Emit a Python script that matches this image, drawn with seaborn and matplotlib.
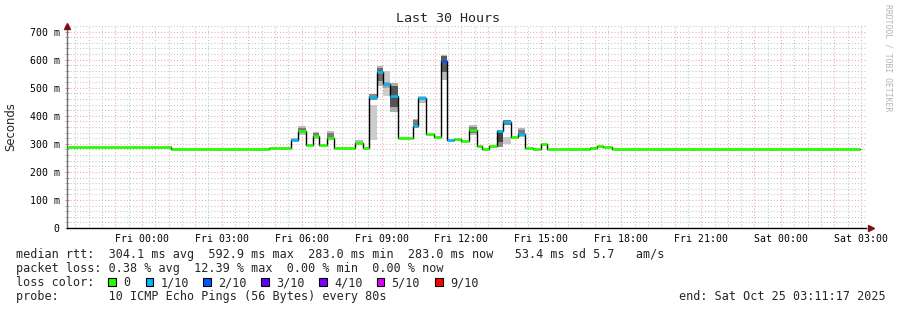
import numpy as np
import pandas as pd
import matplotlib
matplotlib.use("Agg")
import matplotlib.pyplot as plt
import matplotlib.dates as mdates
from matplotlib.ticker import MultipleLocator, FuncFormatter
from matplotlib.patches import Rectangle
import seaborn as sns

# ---------------- data ----------------
seg_start = [
    "2025-10-23 21:11:17", "2025-10-24 01:05", "2025-10-24 04:46", "2025-10-24 05:35",
    "2025-10-24 05:51", "2025-10-24 06:09", "2025-10-24 06:25", "2025-10-24 06:40",
    "2025-10-24 06:56", "2025-10-24 07:12", "2025-10-24 08:01", "2025-10-24 08:17",
    "2025-10-24 08:31", "2025-10-24 08:49", "2025-10-24 09:04", "2025-10-24 09:20",
    "2025-10-24 09:36", "2025-10-24 10:10", "2025-10-24 10:23", "2025-10-24 10:41",
    "2025-10-24 10:57", "2025-10-24 11:13", "2025-10-24 11:28", "2025-10-24 11:44",
    "2025-10-24 12:00", "2025-10-24 12:16", "2025-10-24 12:34", "2025-10-24 12:47",
    "2025-10-24 13:03", "2025-10-24 13:19", "2025-10-24 13:34", "2025-10-24 13:52",
    "2025-10-24 14:08", "2025-10-24 14:24", "2025-10-24 14:42", "2025-10-24 14:58",
    "2025-10-24 15:13", "2025-10-24 16:50", "2025-10-24 17:06", "2025-10-24 17:19",
    "2025-10-24 17:40",
]
data_end = "2025-10-25 02:58"
median_ms = [
    287, 283, 285, 314, 344, 296, 327, 296, 321, 285, 303, 284,
    466, 555, 513, 469, 322, 364, 462, 335, 326, 594, 314, 319,
    311, 350, 293, 283, 293, 344, 378, 326, 336, 285, 282, 300,
    282, 285, 294, 289, 283,
]
loss_idx = [
    0, 0, 0, 1, 0, 0, 0, 0, 0, 0, 0, 0,
    1, 1, 1, 1, 0, 1, 1, 0, 0, 2, 1, 0,
    0, 0, 0, 0, 0, 1, 1, 0, 1, 0, 0, 0,
    0, 0, 0, 0, 0,
]
# smoke bands (spread of the individual pings)
band_seg = [3, 4, 4, 5, 6, 6, 8, 8, 10, 12, 12, 13, 13, 14, 14, 15, 15,
            17, 17, 18, 21, 21, 25, 25, 29, 29, 30, 30, 32, 32, 37]
band_lo = [310, 332, 338, 293, 318, 323, 314, 320, 298, 312, 458, 505, 525, 469, 500, 415, 430,
           358, 366, 445, 526, 555, 330, 340, 290, 305, 300, 368, 324, 330, 283]
band_hi = [322, 364, 358, 300, 343, 338, 346, 340, 312, 439, 478, 578, 570, 558, 520, 518, 505,
           390, 385, 470, 618, 612, 368, 360, 350, 345, 325, 385, 357, 350, 289]
band_gray = ["#b4b4b4", "#bcbcbc", "#7a7a7a", "#d4d4d4", "#bcbcbc", "#7a7a7a", "#bcbcbc", "#7a7a7a",
             "#b4b4b4", "#cccccc", "#8a8a8a", "#b4b4b4", "#6a6a6a", "#cccccc", "#a4a4a4", "#acacac",
             "#545454", "#b4b4b4", "#7a7a7a", "#bcbcbc", "#bcbcbc", "#5a5a5a", "#bcbcbc", "#7a7a7a",
             "#8c8c8c", "#444444", "#c8c8c8", "#7a7a7a", "#b4b4b4", "#7a7a7a", "#d4d4d4"]

loss_labels = ["0", "1/10", "2/10", "3/10", "4/10", "5/10", "9/10"]
loss_colors = ["#26ff00", "#00b8ff", "#0059ff", "#5e00ff", "#7e00ff", "#dd00ff", "#ff0000"]

title = "Last 30 Hours"
y_label = "Seconds"
x_start = "2025-10-23 21:11:17"
x_end = "2025-10-25 03:11:17"
legend_lines = [
    "median rtt:  304.1 ms avg  592.9 ms max  283.0 ms min  283.0 ms now   53.4 ms sd 5.7   am/s",
    "packet loss: 0.38 % avg  12.39 % max  0.00 % min  0.00 % now",
    "loss color:",
    "probe:       10 ICMP Echo Pings (56 Bytes) every 80s",
]
end_text = "end: Sat Oct 25 03:11:17 2025"
credit = "RRDTOOL / TOBI OETIKER"

# ---------------- figure ----------------
sns.set_theme(style="white")
plt.rcParams["font.family"] = ["DejaVu Sans Mono", "DejaVu Sans"]

W, H = 897, 310
fig = plt.figure(figsize=(W / 100, H / 100), dpi=100, facecolor="white")
def fx(x): return x / W
def fy(y): return 1 - y / H

ax = fig.add_axes([fx(67), fy(228), fx(866) - fx(67), fy(26) - fy(228)])
ax.set_facecolor("white")

starts = mdates.date2num(pd.to_datetime(seg_start, format="mixed"))
ends = np.append(starts[1:], mdates.date2num(pd.Timestamp(data_end)))
med = np.array(median_ms, dtype=float)

# smoke
bs = np.array(band_seg)
ax.bar(starts[bs], np.array(band_hi) - np.array(band_lo), bottom=band_lo,
       width=ends[bs] - starts[bs], align="edge", color=band_gray, linewidth=0, zorder=2)

# black step line
df = pd.DataFrame({"t": np.append(starts, ends[-1]), "ms": np.append(med, med[-1])})
sns.lineplot(data=df, x="t", y="ms", drawstyle="steps-post", color="black",
             linewidth=1.0, estimator=None, ax=ax, zorder=3)

# colored median (by loss)
ax.hlines(med, starts, ends, colors=[loss_colors[i] for i in loss_idx],
          linewidth=1.9, zorder=4, capstyle="butt")

ax.set_xlim(mdates.date2num(pd.Timestamp(x_start)), mdates.date2num(pd.Timestamp(x_end)))
ax.set_ylim(0, 720)
ax.set_xlabel("")
ax.set_ylabel("")

# axes ticks / grid
def xfmt(v, pos):
    d = mdates.num2date(v)
    if d.hour % 3 == 0 and d.minute == 0:
        return d.strftime("%a %H:%M")
    return ""
ax.xaxis.set_major_locator(mdates.HourLocator(byhour=range(24)))
ax.xaxis.set_minor_locator(mdates.MinuteLocator(byminute=[30]))
ax.xaxis.set_major_formatter(FuncFormatter(xfmt))
ax.yaxis.set_major_locator(MultipleLocator(100))
ax.yaxis.set_minor_locator(MultipleLocator(20))
ax.yaxis.set_major_formatter(FuncFormatter(lambda v, p: "0" if v == 0 else f"{int(v)} m"))

ax.grid(True, which="major", color="#f4a6a6", linestyle=(0, (1, 2)), linewidth=0.75)
ax.grid(True, which="minor", color="#c4c4c4", linestyle=(0, (1, 2)), linewidth=0.75)
ax.set_axisbelow(True)

ax.tick_params(axis="x", which="both", length=0, pad=4, labelsize=7.1, colors="black")
ax.tick_params(axis="y", which="major", length=2.5, width=0.7, color="#e08080",
               direction="inout", pad=4, labelsize=7.1, labelcolor="black", left=True)
ax.tick_params(axis="y", which="minor", length=2.5, width=0.7, color="#b0b0b0",
               direction="inout", left=True)

for s in ["top", "right"]:
    ax.spines[s].set_visible(False)
ax.spines["bottom"].set_color("black")
ax.spines["bottom"].set_linewidth(1.0)
ax.spines["left"].set_color("#707070")
ax.spines["left"].set_linewidth(1.0)

# arrows
ax.plot([0], [1.0], marker="^", markersize=4, color="#7f1010", transform=ax.transAxes,
        clip_on=False, zorder=6)
ax.plot([1.006], [0], marker=">", markersize=4, color="#7f1010", transform=ax.transAxes,
        clip_on=False, zorder=6)

# texts
fig.text(fx(448), fy(19), title, ha="center", va="center", fontsize=9.6,
         family="DejaVu Sans Mono")
fig.text(fx(11), fy(127), y_label, ha="center", va="center", rotation=90, fontsize=8.4,
         family="DejaVu Sans")
fig.text(fx(888), fy(4), credit, ha="center", va="top", rotation=270, fontsize=5.9,
         color="#b4b4b4", family="DejaVu Sans Mono")

baselines = [258, 272, 286, 300]
for line, b in zip(legend_lines, baselines):
    fig.text(fx(16), fy(b), line, ha="left", va="baseline", fontsize=8.5,
             family="DejaVu Sans Mono")
fig.text(fx(679), fy(300), end_text, ha="left", va="baseline", fontsize=8.5,
         family="DejaVu Sans Mono")

box_x = [108, 145.5, 203, 261, 319, 376.5, 435]
for bx, lab, col in zip(box_x, loss_labels, loss_colors):
    fig.patches.append(Rectangle((fx(bx), fy(286)), fx(7.5), fy(278) - fy(286),
                                 transform=fig.transFigure, facecolor=col,
                                 edgecolor="black", linewidth=0.8, figure=fig))
    fig.text(fx(bx + 15), fy(286), lab, ha="left", va="baseline", fontsize=8.5,
             family="DejaVu Sans Mono")

fig.savefig("out.png", dpi=100, facecolor="white")
